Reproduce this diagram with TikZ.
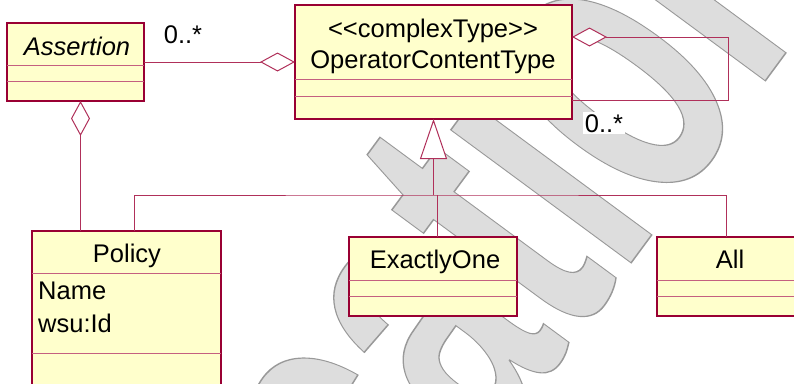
\documentclass[tikz,border=0pt]{standalone}
\usepackage{fontspec}
\setmainfont{Liberation Sans}
\newfontfamily\wmfont{Liberation Sans}
\usetikzlibrary{arrows.meta,calc}

\definecolor{umlborder}{RGB}{153,0,51}
\definecolor{umlcomp}{RGB}{196,96,128}
\definecolor{umlline}{RGB}{176,48,90}
\definecolor{umlfill}{RGB}{255,255,204}
\definecolor{wmfill}{RGB}{221,221,221}

\tikzset{
    classbox/.style={draw=umlborder, fill=umlfill, line width=1.4pt,
        anchor=north west, inner sep=0pt, outer sep=0pt},
    compline/.style={umlcomp, line width=1pt},
    assoc/.style={umlline, line width=1pt},
    umltext/.style={font=\fontsize{25.5}{33}\selectfont, inner sep=0pt, anchor=base},
    mult/.style={umltext, fill=white, inner sep=2pt},
    aggr/.style={{Diamond[open,fill=white,length=35pt,width=19pt]}-},
    inherit/.style={-{Triangle[open,fill=white,length=40pt,width=27pt]}}
}

\begin{document}
\begin{tikzpicture}[x=1pt, y=-1pt]
\useasboundingbox (0,0) rectangle (794,383);
\clip (0,0) rectangle (794,383);

% Watermark
\node[font=\wmfont\bfseries\fontsize{424}{424}\selectfont, text=wmfill, rotate=53.6,
    xscale=0.6, anchor=base east, inner sep=0pt] (watermark) at (847,-30)
    {\special{pdf:literal direct 0.6 G 2 Tr 1.5 w}Specification};

% Classes
\node[classbox, minimum width=137pt, minimum height=78pt] (assertion) at (7,23) {};
\node[classbox, minimum width=277pt, minimum height=114pt] (opct) at (295,5) {};
\node[classbox, minimum width=189pt, minimum height=180pt] (policy) at (32,231) {};
\node[classbox, minimum width=168pt, minimum height=79pt] (exactlyone) at (349,237) {};
\node[classbox, minimum width=146pt, minimum height=79pt] (all) at (657,237) {};

% Compartments
\foreach \cls/\ya/\yb in {assertion/42/58, opct/74/91, policy/42/122,
    exactlyone/43/59, all/43/59}{
    \draw[compline] ([yshift=-\ya pt]\cls.north west) -- ([yshift=-\ya pt]\cls.north east);
    \draw[compline] ([yshift=-\yb pt]\cls.north west) -- ([yshift=-\yb pt]\cls.north east);
}

% Names and attributes
\node[umltext, font=\fontsize{25.5}{33}\selectfont\itshape] (assertionname) at (77,55) {Assertion};
\node[umltext] (stereotype) at (433,37) {<{}<complexType>{}>};
\node[umltext] (opctname) at (433,68) {OperatorContentType};
\node[umltext] (policyname) at (127,262) {Policy};
\node[umltext, anchor=base west] (policyattra) at (38,299) {Name};
\node[umltext, anchor=base west] (policyattrb) at (38,332) {wsu:Id};
\node[umltext] (exactlyonename) at (435,268) {ExactlyOne};
\node[umltext] (allname) at (730,268) {All};

% Aggregations
\draw[assoc, aggr] (opct.west) -- (opct.west -| assertion.east);
\node[umltext] (multleft) at (183,43) {0..*};
\draw[assoc, aggr] ([xshift=5pt]assertion.south) -- ([xshift=5pt]assertion.south |- policy.north);
\coordinate (loopcorner) at (728,100);
\draw[assoc, aggr] ([yshift=25pt]opct.east) -| (loopcorner) -- (loopcorner -| opct.east);
\node[mult] (multloop) at (604,132) {0..*};

% Generalization
\coordinate (treejoin) at ($(opct.south)+(0,76)$);
\draw[assoc, inherit] (treejoin) -- (opct.south);
\draw[assoc] ([xshift=8pt]policy.north) |- (treejoin) -| ([xshift=-4pt]all.north);
\draw[assoc] ([xshift=4pt]exactlyone.north) -- ([xshift=4pt]exactlyone.north |- treejoin);
\end{tikzpicture}
\end{document}
